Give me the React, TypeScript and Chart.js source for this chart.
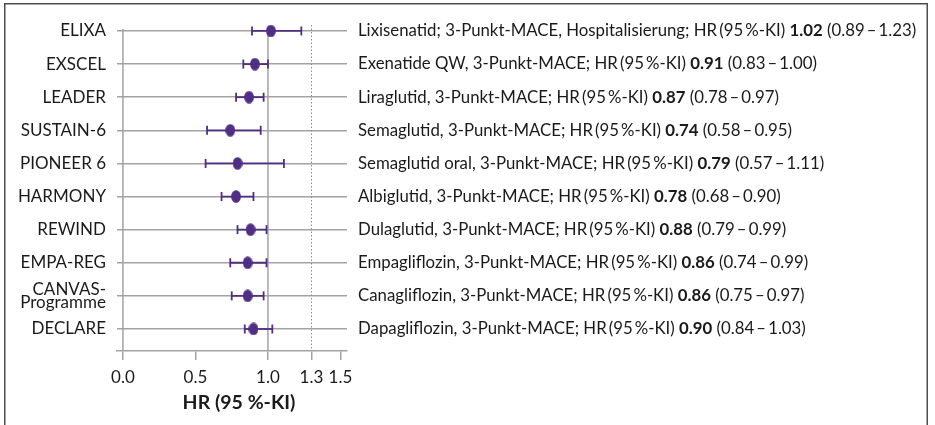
import { useEffect, useRef } from "react";
import { Chart, registerables } from "chart.js";
Chart.register(...registerables);

const studies: (string | string[])[] = ["ELIXA", "EXSCEL", "LEADER", "SUSTAIN-6", "PIONEER 6", "HARMONY", "REWIND", "EMPA-REG", ["CANVAS-", "Programme"], "DECLARE"];
const descriptions = [
  "Lixisenatid; 3-Punkt-MACE, Hospitalisierung;",
  "Exenatide QW, 3-Punkt-MACE;",
  "Liraglutid, 3-Punkt-MACE;",
  "Semaglutid, 3-Punkt-MACE;",
  "Semaglutid oral, 3-Punkt-MACE;",
  "Albiglutid, 3-Punkt-MACE;",
  "Dulaglutid, 3-Punkt-MACE;",
  "Empagliflozin, 3-Punkt-MACE;",
  "Canagliflozin, 3-Punkt-MACE;",
  "Dapagliflozin, 3-Punkt-MACE;",
];
const hr = [1.02, 0.91, 0.87, 0.74, 0.79, 0.78, 0.88, 0.86, 0.86, 0.9];
const ciLow = [0.89, 0.83, 0.78, 0.58, 0.57, 0.68, 0.79, 0.74, 0.75, 0.84];
const ciHigh = [1.23, 1.0, 0.97, 0.95, 1.11, 0.9, 0.99, 0.99, 0.97, 1.03];
const xTicks = [0, 0.5, 1.0, 1.3, 1.5];
const refLine = 1.3;
const axisTitle = "HR (95 %-KI)";

const FF = "Lato";
const FS_LEFT = 17;
const FS_RIGHT = 16.8;
const FS_TICK = 17;
const FS_TITLE = 19.5;
const TEXT = "#1a1a1a";
const GRID = "#a3a3a3";
const PURPLE = "#4f2e84";
const YMIN = -0.18;
const YMAX = 9.665;

export default function App() {
  const ref = useRef<HTMLCanvasElement>(null);
  useEffect(() => {
    document.body.style.margin = "0";
    const dot = document.createElement("canvas");
    dot.width = 10;
    dot.height = 13;
    const dctx = dot.getContext("2d")!;
    dctx.fillStyle = PURPLE;
    dctx.beginPath();
    dctx.ellipse(5, 6.5, 4.9, 6.3, 0, 0, Math.PI * 2);
    dctx.fill();

    const frame = {
      id: "frame",
      afterDraw(chart: any) {
        const ctx = chart.ctx;
        ctx.save();
        ctx.strokeStyle = "#4d4d4d";
        ctx.lineWidth = 1.5;
        ctx.strokeRect(4.75, 3.75, 922.5, 440);
        ctx.restore();
      },
    };
    const rightLabels = {
      id: "rightLabels",
      afterDraw(chart: any) {
        const ctx = chart.ctx;
        const ys = chart.scales.y;
        ctx.save();
        ctx.textBaseline = "middle";
        ctx.fillStyle = TEXT;
        hr.forEach((v, i) => {
          let x = chart.chartArea.right + 11;
          const py = ys.getPixelForValue(i);
          const parts: [string, boolean][] = [
            [`${descriptions[i]} HR\u2009(95\u2009%-KI) `, false],
            [v.toFixed(2), true],
            [` (${ciLow[i].toFixed(2)}\u2009\u2013\u2009${ciHigh[i].toFixed(2)})`, false],
          ];
          for (const [t, b] of parts) {
            ctx.font = `${b ? "bold " : ""}${FS_RIGHT}px "${FF}"`;
            ctx.fillText(t, x, py);
            x += ctx.measureText(t).width;
          }
        });
        const xs = chart.scales.x;
        ctx.font = `bold ${FS_TITLE}px "${FF}"`;
        ctx.textAlign = "center";
        ctx.fillText(axisTitle, (xs.left + xs.right) / 2 + 7, 403);
        ctx.restore();
      },
    };

    const chart = new Chart(ref.current!, {
      type: "scatter",
      data: {
        datasets: [
          { type: "line", data: [{ x: 0, y: -0.06 }, { x: 0, y: YMAX }], borderColor: GRID, borderWidth: 1.5, pointRadius: 0, order: 5 } as any,
          { type: "line", data: [{ x: 1, y: 0 }, { x: 1, y: YMAX }], borderColor: GRID, borderWidth: 1.5, pointRadius: 0, order: 5 } as any,
          { type: "line", data: [{ x: refLine, y: YMIN }, { x: refLine, y: YMAX }], borderColor: "#8a8a8a", borderWidth: 1, borderDash: [1.5, 2], pointRadius: 0, order: 5 } as any,
          ...hr.map((_, i) => ({
            type: "line",
            data: [{ x: ciLow[i], y: i }, { x: ciHigh[i], y: i }],
            borderColor: PURPLE,
            borderWidth: 1.8,
            pointStyle: "line",
            pointRotation: 90,
            pointRadius: 4.5,
            pointBorderWidth: 1.8,
            pointBorderColor: PURPLE,
            order: 2,
          } as any)),
          { type: "scatter", data: hr.map((v, i) => ({ x: v, y: i })), pointStyle: dot, pointRadius: 6, order: 1 } as any,
        ],
      },
      options: {
        animation: false,
        responsive: false,
        events: [],
        plugins: { legend: { display: false }, tooltip: { enabled: false } },
        layout: { padding: { left: 0, right: 588, top: 25, bottom: 30.6 } },
        scales: {
          x: {
            type: "linear",
            min: -0.041,
            max: 1.545,
            afterBuildTicks: (s: any) => {
              s.ticks = xTicks.map((v) => ({ value: v }));
            },
            ticks: { callback: (v: any) => Number(v).toFixed(1), font: { family: FF, size: FS_TICK }, color: TEXT, padding: 7, maxRotation: 0, autoSkip: false },
            grid: { drawOnChartArea: false, drawTicks: true, tickLength: 9, color: GRID, lineWidth: 1.5 },
            border: { display: true, color: GRID, width: 1.5 },
          },
          y: {
            type: "linear",
            reverse: true,
            min: YMIN,
            max: YMAX,
            afterBuildTicks: (s: any) => {
              s.ticks = studies.map((_, i) => ({ value: i }));
            },
            afterFit: (s: any) => {
              s.width = 117;
            },
            ticks: { callback: (v: any) => studies[v], font: { family: FF, size: FS_LEFT, lineHeight: 0.8 }, color: TEXT, padding: 11, autoSkip: false },
            grid: { color: GRID, lineWidth: 1.5, drawTicks: false },
            border: { display: false },
          },
        },
      },
      plugins: [frame, rightLabels],
    } as any);
    return () => chart.destroy();
  }, []);
  return (
    <div style={{ position: "relative", width: 935, height: 425 }}>
      <canvas ref={ref} width={935} height={425} style={{ display: "block" }} />
    </div>
  );
}
